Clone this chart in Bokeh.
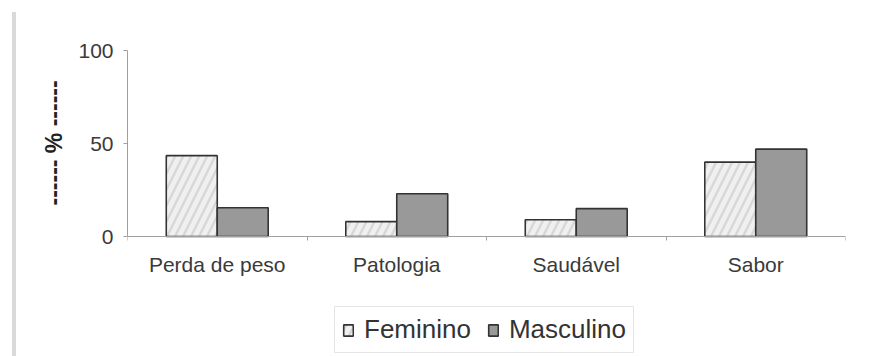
from bokeh.plotting import figure
from bokeh.models import (Range1d, FixedTicker, Legend, LegendItem,
                          ColumnDataSource, InlineStyleSheet, Title)
from bokeh.embed import file_html
from bokeh.resources import INLINE

# Motivos de escolha, por sexo (%)
categories = ["Perda de peso", "Patologia", "Saudável", "Sabor"]
feminino = [43.5, 8, 9, 40]
masculino = [15.5, 23, 15, 47]
y_ticks = [0, 50, 100]
y_label = "------ % ------"

bar_w = 0.284
centers = [i + 0.5 for i in range(len(categories))]

src_f = ColumnDataSource(dict(x=[c - bar_w / 2 for c in centers], top=feminino))
src_m = ColumnDataSource(dict(x=[c + bar_w / 2 for c in centers], top=masculino))

# grey rule along the left edge of the panel
edge_css = InlineStyleSheet(css="""
:host { position: relative; }
:host::after {
  content: ""; position: absolute; left: 12px; top: 12px;
  width: 4px; height: 344px; background: #d9d9d9; z-index: 10;
}
""")

# the frame runs down to the bottom edge so the legend can sit under the bars;
# the category axis is pinned at y = 0
p = figure(width=891, height=356, output_backend="svg", toolbar_location=None,
           x_range=Range1d(0, len(categories)), y_range=Range1d(-64.5, 105.4),
           min_border_left=127, min_border_right=46,
           min_border_top=40, min_border_bottom=0)
p.stylesheets.append(edge_css)
p.outline_line_color = None
p.xgrid.visible = False
p.ygrid.visible = False
p.background_fill_color = "white"
p.border_fill_color = "white"

r_f = p.vbar(x="x", top="top", width=bar_w, source=src_f,
             fill_color="#f0f0f0", line_color="#333333", line_width=1.6,
             hatch_pattern="/", hatch_color="#d8d8d8", hatch_weight=2.5,
             hatch_scale=16)
r_m = p.vbar(x="x", top="top", width=bar_w, source=src_m,
             fill_color="#999999", line_color="#333333", line_width=1.6)

font = "Liberation Sans"

# x axis: labels at category centres, small ticks on the boundaries
xa = p.xaxis[0]
xa.fixed_location = 0
xa.ticker = FixedTicker(ticks=centers, minor_ticks=list(range(len(categories) + 1)))
xa.major_label_overrides = {c: name for c, name in zip(centers, categories)}
xa.major_tick_line_color = None
xa.major_tick_out = 4
xa.major_tick_in = 0
xa.minor_tick_line_color = "#a0a0a0"
xa.minor_tick_out = 4
xa.minor_tick_in = 0
xa.axis_line_color = "#a0a0a0"
xa.major_label_standoff = 12
xa.major_label_text_font = font
xa.major_label_text_font_size = "21px"
xa.major_label_text_color = "#3a3a3a"

# y axis
ya = p.yaxis[0]
ya.bounds = (0, 100)
ya.ticker = FixedTicker(ticks=y_ticks)
ya.minor_tick_line_color = None
ya.axis_line_color = "#a0a0a0"
ya.major_tick_line_color = "#a0a0a0"
ya.major_tick_out = 4
ya.major_tick_in = 0
ya.major_label_standoff = 10
ya.major_label_text_font = font
ya.major_label_text_font_size = "21px"
ya.major_label_text_color = "#3a3a3a"

# y caption, lifted so it sits beside the 0-100 span rather than the whole frame
p.add_layout(Title(text=y_label, align="left", offset=151, standoff=17,
                   text_font=font, text_font_size="23px",
                   text_font_style="bold", text_color="#222222"), "left")

legend = Legend(items=[LegendItem(label="Feminino", renderers=[r_f]),
                       LegendItem(label="Masculino", renderers=[r_m])],
                orientation="horizontal", location=(207, 3),
                glyph_width=12, glyph_height=14, label_standoff=10,
                spacing=16, padding=7, margin=0,
                label_text_font=font, label_text_font_size="26px",
                label_text_color="#333333",
                border_line_color="#cccccc", border_line_width=1,
                background_fill_color="white", background_fill_alpha=1)
p.add_layout(legend, "center")

open("out.html", "w").write(file_html(p, INLINE))
